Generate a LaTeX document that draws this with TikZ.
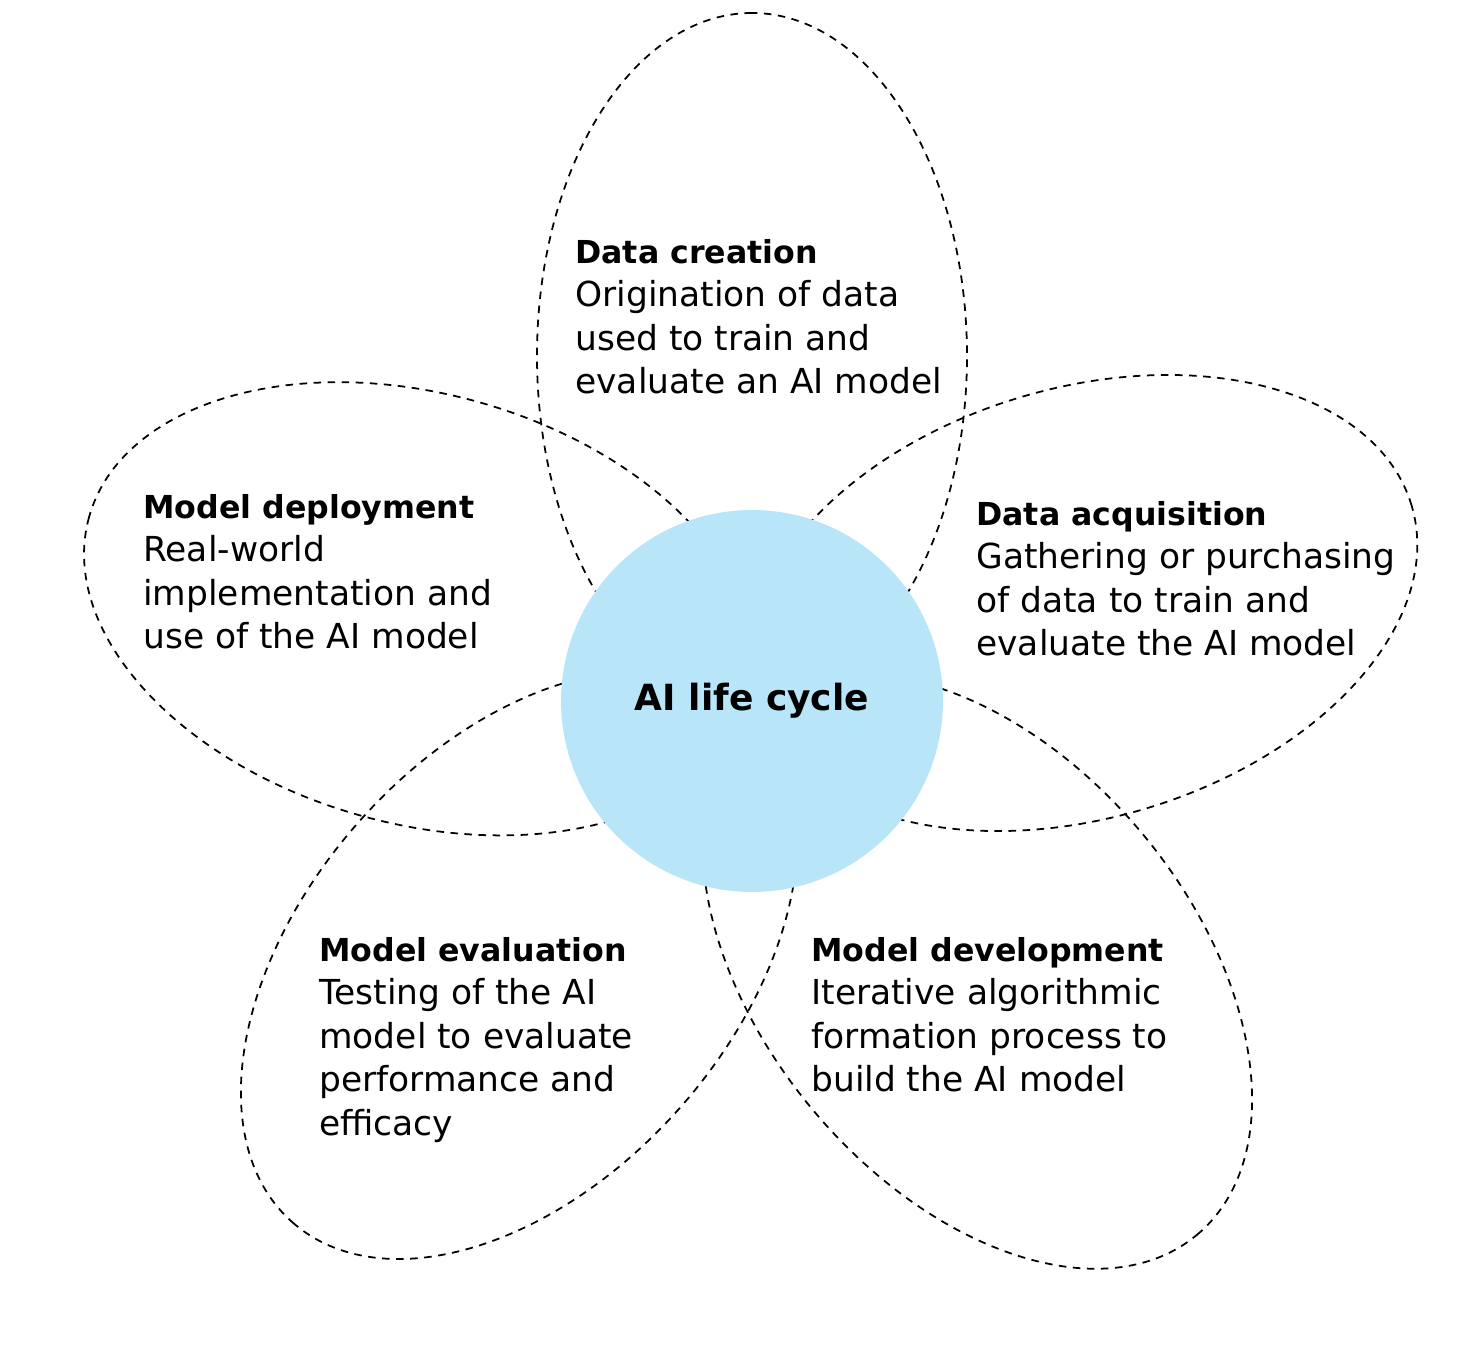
\documentclass[tikz,border=0pt]{standalone}
\usepackage{fontspec}
\setmainfont{DejaVu Sans}
\usepackage{xcolor}
\usetikzlibrary{positioning}
\definecolor{lifeblue}{RGB}{185,229,248}
\newcommand{\stagehead}[1]{{\fontsize{18}{24.75}\selectfont\bfseries #1}}

\begin{document}
\begin{tikzpicture}[x=0.02cm, y=0.02cm,
	petal/.style={black, line width=1pt, dash pattern=on 4.3pt off 3.7pt},
	hub/.style={circle, fill=lifeblue, minimum size=7.64cm, inner sep=0pt, font=\fontsize{20.5}{24}\selectfont\bfseries},
	stage/.style={anchor=base west, align=left, inner sep=0pt, font=\fontsize{19.6}{24.75}\selectfont}]
	% Define constants
	\def\A{343} % half length of a petal
	\def\B{215} % half width of a petal
	
	\useasboundingbox (-752,-647) rectangle (732,701);
	
	% Draw the five dashed petals (angle / distance of centre from the hub)
	\foreach \a/\d in {90/345, 16.5/345, 164.5/345, 228.6/352, 309.8/352} {
		\draw[petal, rotate=\a] (\d,0) ellipse[x radius=\A, y radius=\B];
	}
	
	% Hub circle on top of the petals
	\node[hub] (hub) at (0,0) {AI life cycle};
	
	% Stage labels (base anchor sits on the last line)
	\node[stage] (creation) at (-177,307.5) {\stagehead{Data creation}\\Origination of data\\used to train and\\evaluate an AI model};
	\node[stage] (acquisition) at (224,45.5) {\stagehead{Data acquisition}\\Gathering or purchasing\\of data to train and\\evaluate the AI model};
	\node[stage] (development) at (59,-390.5) {\stagehead{Model development}\\Iterative algorithmic\\formation process to\\build the AI model};
	\node[stage] (evaluation) at (-433,-434) {\stagehead{Model evaluation}\\Testing of the AI\\model to evaluate\\performance and\\efficacy};
	\node[stage] (deployment) at (-609,52.5) {\stagehead{Model deployment}\\Real-world\\implementation and\\use of the AI model};
	
\end{tikzpicture}
\end{document}
